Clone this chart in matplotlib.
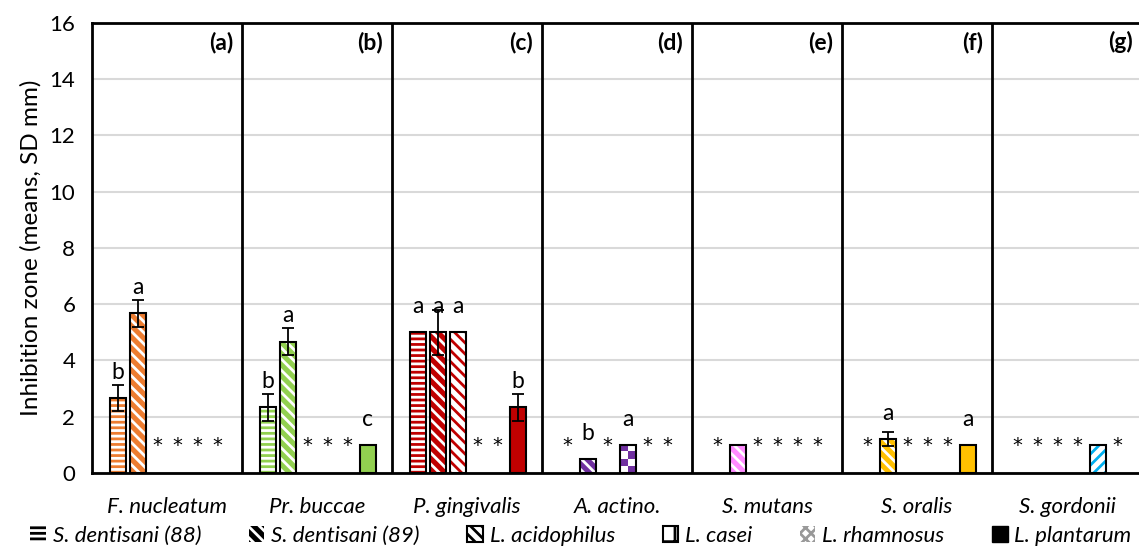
import numpy as np
import matplotlib
matplotlib.use("Agg")
import matplotlib.pyplot as plt
from matplotlib.patches import Patch

plt.rcParams['font.family'] = ['Lato', 'DejaVu Sans']
plt.rcParams['hatch.linewidth'] = 2.0

pathogens = ['F. nucleatum', 'Pr. buccae', 'P. gingivalis', 'A. actino.',
             'S. mutans', 'S. oralis', 'S. gordonii']
panel_tags = ['(a)', '(b)', '(c)', '(d)', '(e)', '(f)', '(g)']
strains = ['S. dentisani (88)', 'S. dentisani (89)', 'L. acidophilus',
           'L. casei', 'L. rhamnosus', 'L. plantarum']
colors = ['#ED7D31', '#92D050', '#C00000', '#7030A0', '#FF8BFF', '#FFC000', '#00B0F0']

# mean inhibition zone (0 = no inhibition, shown as *)
means = [
    [2.67, 5.67, 0, 0, 0, 0],
    [2.33, 4.67, 0, 0, 0, 1.0],
    [5.0, 5.0, 5.0, 0, 0, 2.33],
    [0, 0.5, 0, 1.0, 0, 0],
    [0, 1.0, 0, 0, 0, 0],
    [0, 1.2, 0, 0, 0, 1.0],
    [0, 0, 0, 0, 1.0, 0],
]
sds = [
    [0.47, 0.47, 0, 0, 0, 0],
    [0.47, 0.47, 0, 0, 0, 0],
    [0, 0.8, 0, 0, 0, 0.47],
    [0, 0, 0, 0, 0, 0],
    [0, 0, 0, 0, 0, 0],
    [0, 0.25, 0, 0, 0, 0],
    [0, 0, 0, 0, 0, 0],
]
letters = [
    ['b', 'a', '', '', '', ''],
    ['b', 'a', '', '', '', 'c'],
    ['a', 'a', 'a', '', '', 'b'],
    ['', 'b', '', 'a', '', ''],
    ['', '', '', '', '', ''],
    ['', 'a', '', '', '', 'a'],
    ['', '', '', '', '', ''],
]
# (face on colour?, hatch)
styles = [('color', '---'), ('color', '\\\\\\'), ('white', '\\\\\\'),
          ('check', ''), ('white', '///'), ('color', '')]

W = 7.5       # panel width in slot units
OFF = 1.275   # first slot offset
BW = 0.8

fig = plt.figure(figsize=(11.39, 5.48), dpi=100)
ax = fig.add_axes([92 / 1139, 1 - 473 / 548, 1050 / 1139, 450.3 / 548])

for p in range(len(pathogens)):
    base = p * W + OFF
    for s in range(len(strains)):
        x = base + s
        m = means[p][s]
        if m == 0:
            ax.text(x, 0.78, '*', ha='center', va='baseline', fontsize=14,
                    family='DejaVu Sans')
            continue
        mode, hatch = styles[s][0], styles[s][1]
        c = colors[p]
        if mode == 'color':
            ax.bar(x, m, BW, color=c, edgecolor='white', hatch=hatch, linewidth=0, zorder=2)
        elif mode == 'white':
            ax.bar(x, m, BW, color='white', edgecolor=c, hatch=hatch, linewidth=0, zorder=2)
        else:
            b = ax.bar(x, m, BW, color='white', linewidth=0, zorder=2)[0]
            nrows = max(1, int(round(m / 0.27)))
            grid = (np.add.outer(np.arange(nrows), np.arange(2)) % 2)
            cmap = matplotlib.colors.ListedColormap(['white', c])
            im = ax.imshow(grid, extent=(b.get_x(), b.get_x() + b.get_width(), 0, m),
                           origin='lower', cmap=cmap, aspect='auto', zorder=2.5,
                           interpolation='nearest')
            im.set_clip_path(b)
        ax.bar(x, m, BW, fill=False, edgecolor='black', linewidth=1.5, zorder=3)
        if sds[p][s] > 0:
            ax.errorbar(x, m, yerr=sds[p][s], fmt='none', ecolor='black',
                        elinewidth=1.3, capsize=4.5, capthick=1.3, zorder=4)
        if letters[p][s]:
            ax.text(x, m + 0.68, letters[p][s], ha='center', va='baseline', fontsize=16.5)
    ax.text((p + 1) * W - 0.45, 15.05, panel_tags[p], ha='right', va='baseline',
            fontsize=16.5, fontweight='bold')
    if p > 0:
        ax.axvline(p * W, color='black', linewidth=2, zorder=5)

ax.set_xlim(0, W * len(pathogens))
ax.set_ylim(0, 16)
ax.set_yticks(range(0, 17, 2))
ax.set_xticks([p * W + W / 2 for p in range(len(pathogens))])
ax.set_xticklabels(pathogens, style='italic')
ax.tick_params(axis='both', length=0)
ax.tick_params(axis='x', labelsize=16, pad=17)
ax.tick_params(axis='y', labelsize=16, pad=12)
ax.yaxis.grid(True, color='#D9D9D9', linewidth=1.5, zorder=0)
ax.set_axisbelow(True)
for sp in ax.spines.values():
    sp.set_linewidth(2)
ax.set_ylabel('Inhibition zone (means, SD mm)', fontsize=17.5, labelpad=6)

handles = [
    Patch(facecolor='black', edgecolor='white', hatch='---', linewidth=0),
    Patch(facecolor='black', edgecolor='white', hatch='\\\\\\', linewidth=0),
    Patch(facecolor='white', edgecolor='black', hatch='\\\\\\', linewidth=1.5),
    Patch(facecolor='white', edgecolor='black', hatch='+', linewidth=1.5),
    Patch(facecolor='white', edgecolor='#999999', hatch='xxx', linewidth=0),
    Patch(facecolor='black', edgecolor='black'),
]
leg = fig.legend(handles, strains, loc='lower center', ncol=6, frameon=False,
                 bbox_to_anchor=(0.51, -0.032), handlelength=0.7, handleheight=0.7,
                 handletextpad=0.3, columnspacing=2.15, prop={'size': 16, 'style': 'italic'})

fig.savefig('out.png', dpi=100)
